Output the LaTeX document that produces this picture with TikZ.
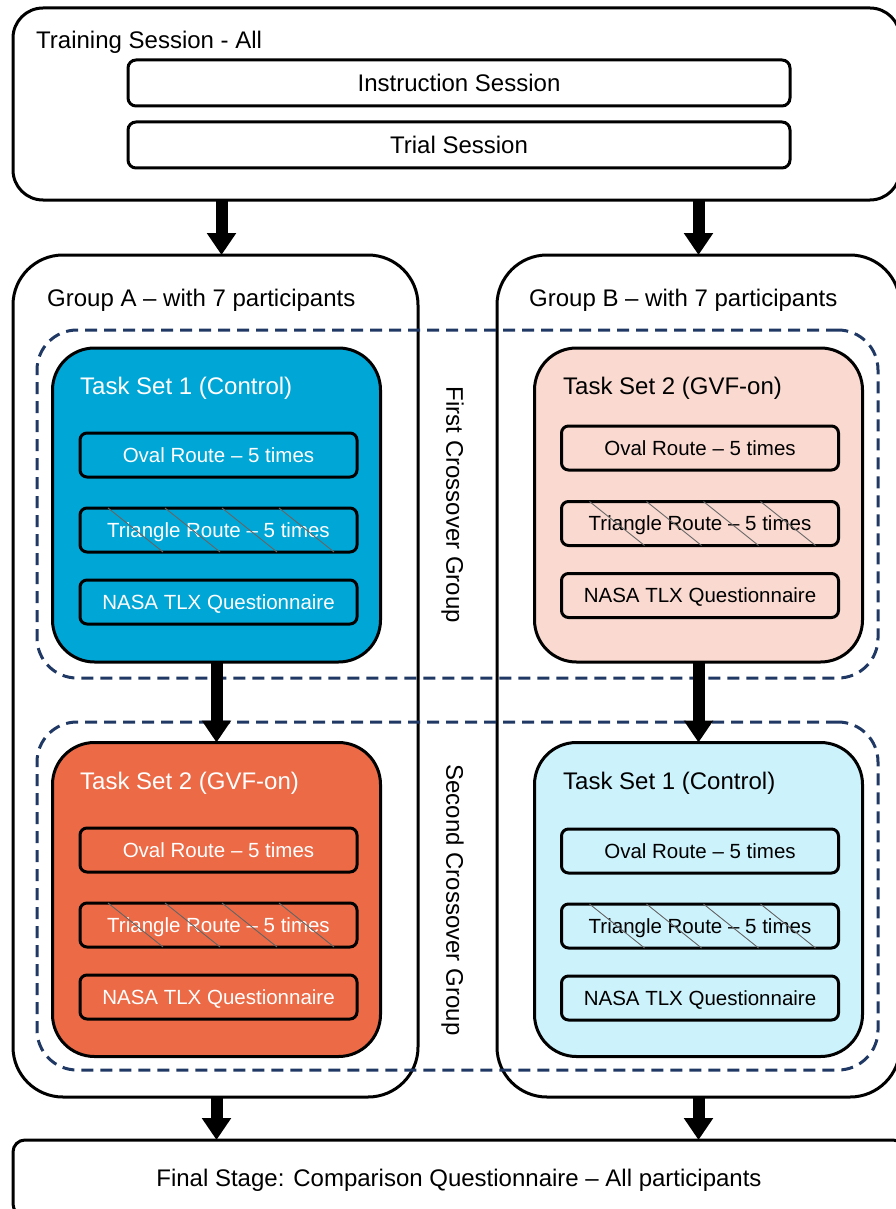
\documentclass[tikz,border=0pt]{standalone}
\usepackage{fontspec}
\setmainfont{Liberation Sans}
\usetikzlibrary{arrows.meta,calc}

\definecolor{ctrlblue}{RGB}{0,166,214}
\definecolor{gvforange}{RGB}{236,106,70}
\definecolor{gvfpeach}{RGB}{250,218,208}
\definecolor{ctrlcyan}{RGB}{204,242,252}
\definecolor{crossnavy}{RGB}{31,56,100}

\tikzset{
  box/.style={draw, line width=3pt, outer sep=0pt, inner sep=0pt},
  crossbox/.style={draw=crossnavy, line width=3pt, dash pattern=on 12pt off 7pt, rounded corners=40pt,
    minimum width=841pt, minimum height=348pt, outer sep=0pt},
  taskset/.style={box, rounded corners=42pt, minimum width=328pt, minimum height=314pt},
  route/.style={box, rounded corners=7pt, minimum width=277pt, minimum height=44pt,
    font=\fontsize{20.5}{24}\selectfont, text depth=0pt},
  bigtext/.style={font=\fontsize{24}{28}\selectfont, inner sep=0pt, text depth=0pt},
  bigarrow/.style={line width=12pt, -{Triangle[width=28pt,length=22pt]}},
  hatch/.style={draw=black!60, line width=0.9pt}
}

\begin{document}
\begin{tikzpicture}[x=1pt, y=-1pt]
  \useasboundingbox (0,0) rectangle (895,1209);

  % training stage
  \node[box, rounded corners=30pt, minimum width=887pt, minimum height=192pt] (train) at (456.5,104) {};
  \node[bigtext, anchor=west] (trainlbl) at (36,40) {Training Session - All};
  \node[box, bigtext, rounded corners=8pt, minimum width=662pt, minimum height=46pt] (instr) at (459,83) {Instruction Session};
  \node[box, bigtext, rounded corners=8pt, minimum width=662pt, minimum height=46pt] (trial) at (459,145) {Trial Session};

  % groups
  \node[box, rounded corners=50pt, minimum width=405pt, minimum height=842pt] (grpA) at (215.5,676) {};
  \node[box, rounded corners=50pt, minimum width=403pt, minimum height=842pt] (grpB) at (698.5,676) {};
  \node[bigtext, anchor=west] (grpAlbl) at (47,298) {Group A -- with 7 participants};
  \node[bigtext, anchor=west] (grpBlbl) at (529,298) {Group B -- with 7 participants};

  % crossover groups
  \node[crossbox] (cross1) at (457.5,504) {};
  \node[crossbox] (cross2) at (457.5,896) {};
  \node[bigtext, rotate=-90] (cross1lbl) at (455,505) {First Crossover Group};
  \node[bigtext, rotate=-90] (cross2lbl) at (455,900) {Second Crossover Group};

  % task sets
  \node[taskset, fill=ctrlblue] (tsA1) at (216.5,505) {};
  \node[taskset, fill=gvfpeach] (tsB1) at (698.5,505) {};
  \node[taskset, fill=gvforange] (tsA2) at (216.5,899.5) {};
  \node[taskset, fill=ctrlcyan] (tsB2) at (698.5,899.5) {};
  \node[bigtext, anchor=west, text=white] (tsA1lbl) at (80,386) {Task Set 1 (Control)};
  \node[bigtext, anchor=west] (tsB1lbl) at (563,386) {Task Set 2 (GVF-on)};
  \node[bigtext, anchor=west, text=white] (tsA2lbl) at (80,781) {Task Set 2 (GVF-on)};
  \node[bigtext, anchor=west] (tsB2lbl) at (563,781) {Task Set 1 (Control)};

  \node[route, fill=ctrlblue, text=white] (ovalA1) at (218.5,455) {Oval Route -- 5 times};
  \node[route, fill=ctrlblue, text=white] (triA1) at (218.5,530) {Triangle Route -- 5 times};
  \node[route, fill=ctrlblue, text=white] (nasaA1) at (218.5,602) {NASA TLX Questionnaire};
  \node[route, fill=gvfpeach] (ovalB1) at (700,448) {Oval Route -- 5 times};
  \node[route, fill=gvfpeach] (triB1) at (700,523.5) {Triangle Route -- 5 times};
  \node[route, fill=gvfpeach] (nasaB1) at (700,595.5) {NASA TLX Questionnaire};
  \node[route, fill=gvforange, text=white] (ovalA2) at (218.5,850) {Oval Route -- 5 times};
  \node[route, fill=gvforange, text=white] (triA2) at (218.5,925) {Triangle Route -- 5 times};
  \node[route, fill=gvforange, text=white] (nasaA2) at (218.5,997) {NASA TLX Questionnaire};
  \node[route, fill=ctrlcyan] (ovalB2) at (700,851) {Oval Route -- 5 times};
  \node[route, fill=ctrlcyan] (triB2) at (700,926) {Triangle Route -- 5 times};
  \node[route, fill=ctrlcyan] (nasaB2) at (700,998) {NASA TLX Questionnaire};

  \foreach \b in {triA1,triB1,triA2,triB2}
    \foreach \o in {28,85,142,199}
      \draw[hatch] ($(\b.north west)+(\o,0)$) -- ($(\b.south west)+(\o+55,0)$);

  % final stage
  \node[box, bigtext, rounded corners=12pt, minimum width=892pt, minimum height=76pt] (final) at (459,1178) {Final Stage: Comparison Questionnaire -- All participants};

  % arrows
  \draw[bigarrow] ($(train.south -| tsA1)+(5,0)$) -- ($(grpA.north -| tsA1)+(5,0)$);
  \draw[bigarrow] (train.south -| tsB1) -- (grpB.north -| tsB1);
  \draw[bigarrow] (tsA1.south) -- (tsA2.north);
  \draw[bigarrow] (tsB1.south) -- (tsB2.north);
  \draw[bigarrow] (grpA.south -| tsA2) -- (final.north -| tsA2);
  \draw[bigarrow] (grpB.south -| tsB2) -- (final.north -| tsB2);
\end{tikzpicture}
\end{document}
